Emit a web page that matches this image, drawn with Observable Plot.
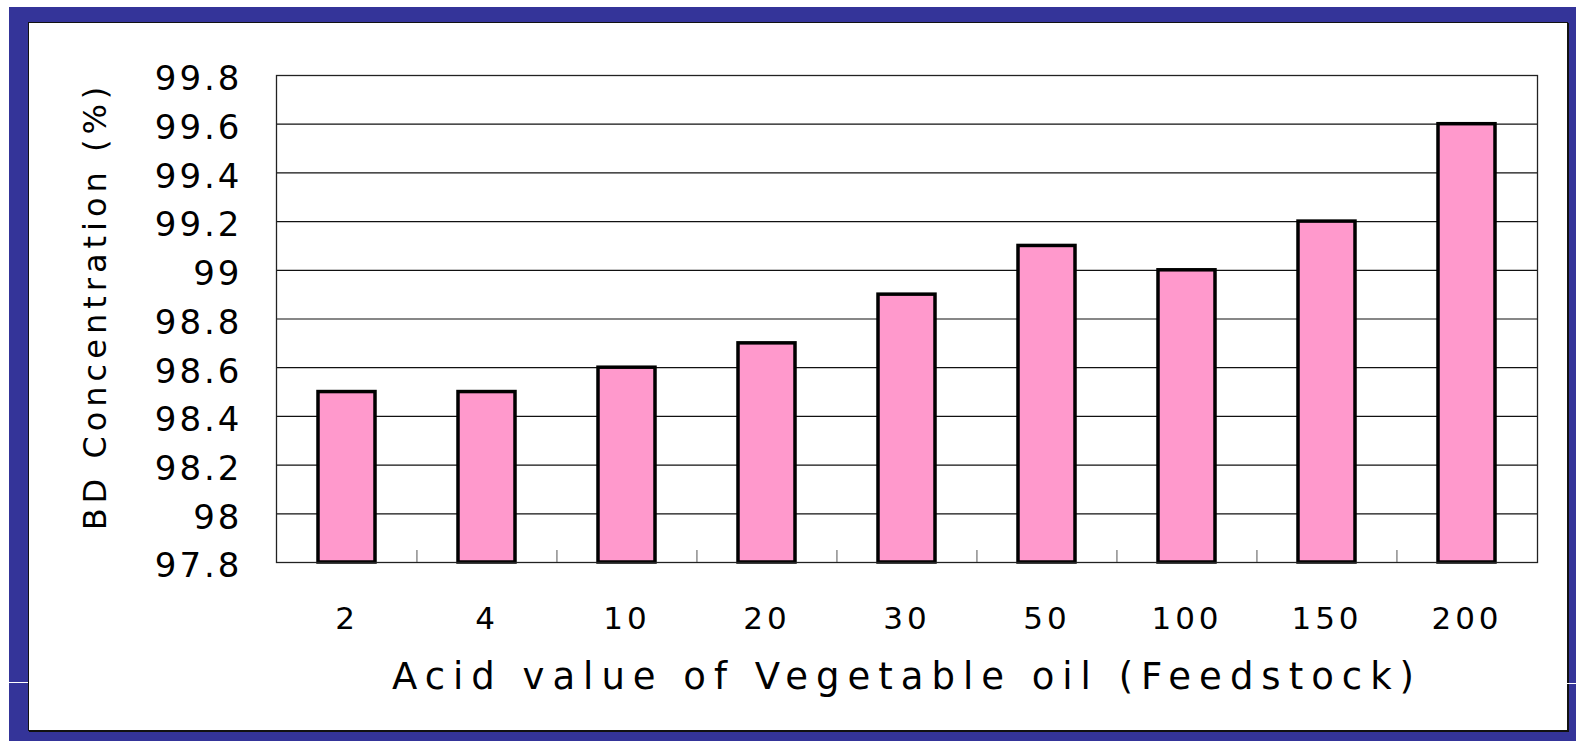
<!DOCTYPE html>
<html>
<head>
<meta charset="utf-8">
<script src="https://cdn.jsdelivr.net/npm/d3@7"></script>
<script src="https://cdn.jsdelivr.net/npm/@observablehq/plot@0.6"></script>
<style>
  html, body { margin: 0; padding: 0; background: #ffffff; }
  #wrap { position: relative; width: 1576px; height: 741px; overflow: hidden; }
  #blue { position: absolute; left: 9px; top: 7px; width: 1567px; height: 734px; background: #343499; }
  #inner { position: absolute; left: 28px; top: 22px; width: 1538px; height: 707px; background: #ffffff; border: 1px solid #111; box-shadow: 1px 1px 0 #111; }
  #line { position: absolute; left: 9px; top: 682px; width: 19px; height: 1px; background: #ffffff; }
  #line2 { position: absolute; left: 1567px; top: 683px; width: 9px; height: 1px; background: #ffffff; }
  #chart { position: absolute; left: 0; top: 0; }
</style>
</head>
<body>
<div id="wrap">
  <div id="blue"></div>
  <div id="inner"></div>
  <div id="line"></div>
  <div id="line2"></div>
  <div id="chart"></div>
</div>
<script>
const acidValues = ["2", "4", "10", "20", "30", "50", "100", "150", "200"];
const bdConcentration = [98.5, 98.5, 98.6, 98.7, 98.9, 99.1, 99.0, 99.2, 99.6];
const yTicks = [97.8, 98.0, 98.2, 98.4, 98.6, 98.8, 99.0, 99.2, 99.4, 99.6, 99.8];
const yTickLabels = ["97.8", "98", "98.2", "98.4", "98.6", "98.8", "99", "99.2", "99.4", "99.6", "99.8"];
const xTitle = "Acid value of Vegetable oil (Feedstock)";
const yTitle = "BD Concentration (%)";

const data = acidValues.map((a, i) => ({acid: a, bd: bdConcentration[i]}));

const W = 1576, H = 741;
const mL = 276, mR = 39, mT = 75, mB = 179;
const step = (W - mL - mR) / acidValues.length;

const chart = Plot.plot({
  width: W,
  height: H,
  marginLeft: mL,
  marginRight: mR,
  marginTop: mT,
  marginBottom: mB,
  style: {background: "transparent", fontFamily: "DejaVu Sans", color: "black", overflow: "visible"},
  x: {type: "band", domain: acidValues, paddingInner: 0.59, paddingOuter: 0.295, label: null},
  y: {domain: [yTicks[0], yTicks[yTicks.length - 1]], label: null},
  marks: [
    Plot.gridY(yTicks, {stroke: "#111", strokeOpacity: 1, strokeWidth: 1.2}),
    Plot.barY(data, {x: "acid", y1: yTicks[0], y2: "bd", fill: "#ff99cc", stroke: "#000", strokeWidth: 3.5}),
    Plot.frame({stroke: "#222", strokeWidth: 1.3}),
    Plot.axisX(acidValues.slice(1), {tickSize: 12, dy: -12, dx: -step / 2, stroke: "#555", tickFormat: () => "", label: null}),
    Plot.axisX({tickSize: 0, tickPadding: 44, fontSize: 31, label: null}),
    Plot.axisY(yTicks, {tickSize: 0, tickPadding: 34, fontSize: 34, dy: 4, tickFormat: d => yTickLabels[yTicks.indexOf(d)], label: null}),
    Plot.text([xTitle], {text: d => d, frameAnchor: "bottom", dy: 126, lineAnchor: "bottom", textAnchor: "middle", fontSize: 37, fill: "#000"}),
    Plot.text([yTitle], {text: d => d, frameAnchor: "left", rotate: -90, dx: -(mL - 95), dy: -13, lineAnchor: "middle", textAnchor: "middle", fontSize: 32, fill: "#000"})
  ]
});

document.getElementById("chart").appendChild(chart);

const svg = d3.select(chart);
svg.selectAll('g[aria-label="y-axis tick label"] text').style("letter-spacing", "3px");
svg.selectAll('g[aria-label="x-axis tick label"] text').style("letter-spacing", "4px");
const titles = svg.selectAll('g[aria-label="text"] text');
titles.filter(function() { return this.textContent === xTitle; }).style("letter-spacing", "8px");
titles.filter(function() { return this.textContent === yTitle; }).style("letter-spacing", "5px");
</script>
</body>
</html>
